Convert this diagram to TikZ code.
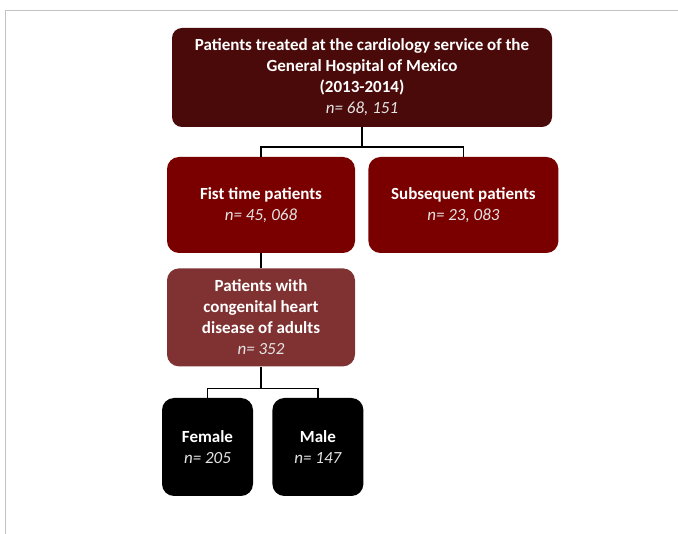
\documentclass[tikz,border=0pt]{standalone}
\usepackage{fontspec}
\setmainfont{Carlito}
\usepackage{xcolor}
\usetikzlibrary{positioning}
\definecolor{topred}{RGB}{75, 10, 10}
\definecolor{midred}{RGB}{122, 0, 0}
\definecolor{softred}{RGB}{128, 50, 50}
\definecolor{framegray}{RGB}{195, 195, 195}
\definecolor{softwhite}{RGB}{228, 228, 228}
\newcommand{\nval}[1]{\textcolor{softwhite}{\mdseries\itshape n= #1}}

\begin{document}
\begin{tikzpicture}[x=1pt, y=1pt,
        stage/.style={rectangle, fill=#1, text=white, minimum width=188pt, minimum height=96pt, align=center, rounded corners=12pt, inner sep=0pt, font=\fontsize{17}{21}\selectfont\bfseries},
        link/.style={draw=black, line width=1.8pt}
    ]
        \useasboundingbox (0,0) rectangle (678,-534);
        \draw[framegray, line width=1pt] (678,-10.5) -- (5,-10.5) -- (5,-534);

        \node (cardio) [stage=topred, minimum width=380pt, minimum height=99pt, rounded corners=10pt] at (362,-77.5) {Patients treated at the cardiology service of the\\General Hospital of Mexico\\(2013-2014)\\\nval{68, 151}};
        \node (first) [stage=midred] at (261,-205) {Fist time patients\\\nval{45, 068}};
        \node (subsequent) [stage=midred, minimum width=190pt, right=13pt of first] {Subsequent patients\\\nval{23, 083}};
        \node (congenital) [stage=softred, minimum height=98pt, below=15pt of first] {Patients with\\congenital heart\\disease of adults\\\nval{352}};
        \node (female) [stage=black, minimum width=91pt, minimum height=98pt] at (207.5,-447) {Female\\\nval{205}};
        \node (male) [stage=black, minimum width=91pt, minimum height=98pt, right=19pt of female] {Male\\\nval{147}};

        \draw[link] (cardio.south) -- ++(0,-20) coordinate (split1);
        \draw[link] (split1) -| (first.north);
        \draw[link] (split1) -| (subsequent.north);
        \draw[link] (first) -- (congenital);
        \draw[link] (congenital.south) -- ++(0,-22) coordinate (split2);
        \draw[link] (split2) -| (female.north);
        \draw[link] (split2) -| (male.north);
    \end{tikzpicture}
\end{document}
